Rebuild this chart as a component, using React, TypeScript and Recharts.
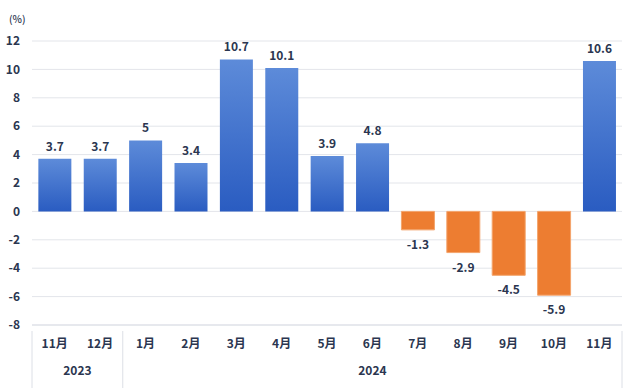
import { BarChart, Bar, XAxis, YAxis, CartesianGrid, Cell, LabelList } from "recharts";

const months = ["11月", "12月", "1月", "2月", "3月", "4月", "5月", "6月", "7月", "8月", "9月", "10月", "11月"];
const years = ["2023", "2023", "2024", "2024", "2024", "2024", "2024", "2024", "2024", "2024", "2024", "2024", "2024"];
const values = [3.7, 3.7, 5, 3.4, 10.7, 10.1, 3.9, 4.8, -1.3, -2.9, -4.5, -5.9, 10.6];
const yTicks = [-8, -6, -4, -2, 0, 2, 4, 6, 8, 10, 12];

const W = 634;
const H = 389;
const M = { top: 41, right: 12, left: 0, bottom: 0 };
const Y_W = 32;
const X_H = 64;
const STEP = (W - M.left - Y_W - M.right) / months.length;

const TEXT = "#2b3650";
const FONT = "'Noto Sans CJK JP', 'Noto Sans', sans-serif";

const rows = months.map((m, i) => ({ key: `${years[i]}-${i}`, month: m, year: years[i], value: values[i] }));

// month label + year grouping drawn under each tick
function MonthTick(props: any) {
  const { x, y, index } = props;
  const row = rows[index];
  if (!row) return null;
  const lineTop = y;
  const lineBottom = y + 55;
  const first = index === 0 || rows[index - 1].year !== row.year;
  const last = index === rows.length - 1;
  let yearX: number | null = null;
  if (first) {
    const count = rows.filter((r) => r.year === row.year).length;
    yearX = x + ((count - 1) * STEP) / 2;
  }
  return (
    <g>
      <text x={x} y={y + 15} textAnchor="middle" fill={TEXT} fontSize={12} fontWeight={700} fontFamily={FONT}>
        {row.month}
      </text>
      {first && <line x1={x - STEP / 2} x2={x - STEP / 2} y1={lineTop - 2} y2={lineBottom} stroke="#dcdfe6" />}
      {last && <line x1={x + STEP / 2} x2={x + STEP / 2} y1={lineTop - 2} y2={lineBottom} stroke="#dcdfe6" />}
      {yearX !== null && (
        <text x={yearX} y={y + 42} textAnchor="middle" fill={TEXT} fontSize={12} fontWeight={700} fontFamily={FONT}>
          {row.year}
        </text>
      )}
    </g>
  );
}

function ValueLabel(props: any) {
  const { x, y, width, height, value } = props;
  const top = Math.min(y, y + height);
  const bottom = Math.max(y, y + height);
  const ty = value >= 0 ? top - 8 : bottom + 19;
  return (
    <text x={x + width / 2} y={ty} textAnchor="middle" fill={TEXT} fontSize={12} fontWeight={700} fontFamily={FONT}>
      {value}
    </text>
  );
}

export default function App() {
  return (
    <div style={{ position: "absolute", left: 0, top: 0, width: W, height: H, background: "#fff", fontFamily: FONT }}>
      <div style={{ position: "absolute", left: 9, top: 11, fontSize: 10, color: TEXT, fontWeight: 500 }}>(%)</div>
      <BarChart width={W} height={H} data={rows} margin={M} barCategoryGap="14%">
        <defs>
          <linearGradient id="blueGrad" x1="0" y1="0" x2="0" y2="1">
            <stop offset="0%" stopColor="#5d8bd9" />
            <stop offset="100%" stopColor="#2a5cc1" />
          </linearGradient>
        </defs>
        <CartesianGrid vertical={false} stroke="#e3e5ea" />
        <XAxis
          dataKey="key"
          height={X_H}
          interval={0}
          tickLine={false}
          axisLine={{ stroke: "#dcdfe6" }}
          tick={<MonthTick />}
        />
        <YAxis
          width={Y_W}
          domain={[-8, 12]}
          ticks={yTicks}
          interval={0}
          axisLine={false}
          tickLine={false}
          tick={{ fill: TEXT, fontSize: 12, fontWeight: 700, fontFamily: FONT }}
          tickMargin={6}
        />
        <Bar dataKey="value" isAnimationActive={false}>
          {rows.map((r) => (
            <Cell
              key={r.key}
              fill={r.value >= 0 ? "url(#blueGrad)" : "#ed7d31"}
              stroke={r.value >= 0 ? "none" : "#f3a46c"}
            />
          ))}
          <LabelList dataKey="value" content={<ValueLabel />} />
        </Bar>
      </BarChart>
    </div>
  );
}
